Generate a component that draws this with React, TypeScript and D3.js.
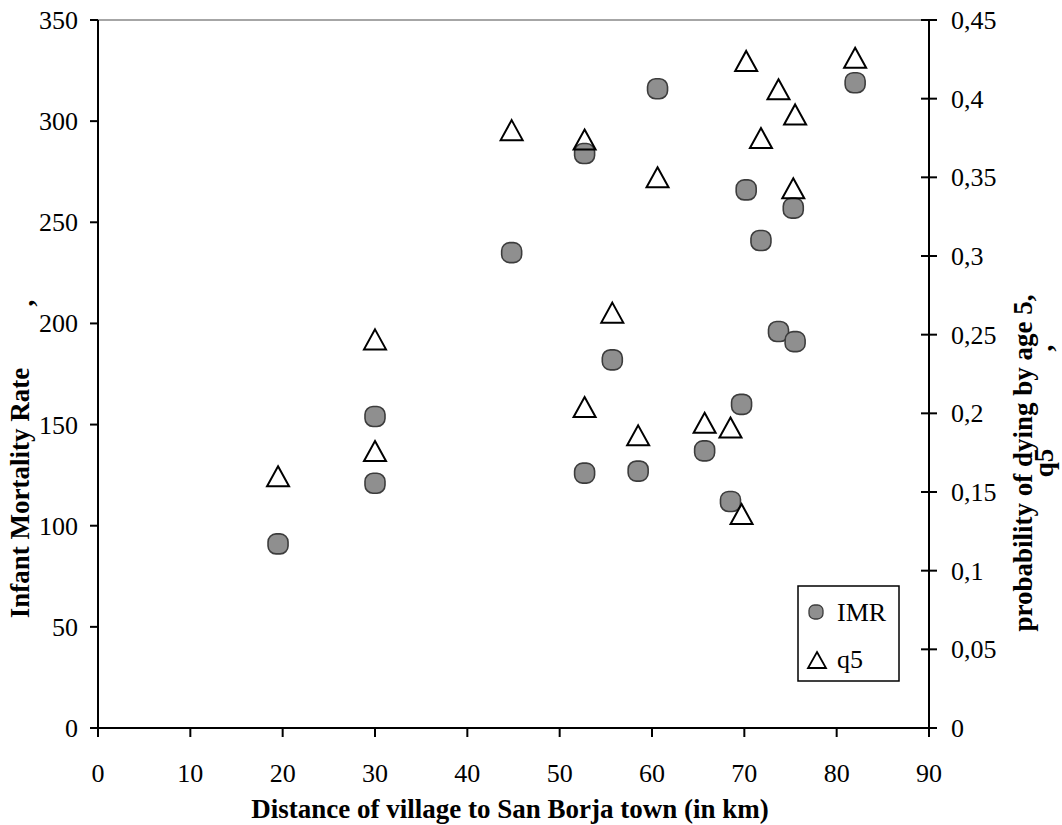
import React from "react";
import * as d3 from "d3";

const distances = [19.5, 30, 30, 44.8, 52.7, 52.7, 55.7, 58.5, 60.6, 65.7, 68.5, 69.7, 70.2, 71.8, 73.7, 75.3, 75.5, 82.0];
const imr = [91, 154, 121, 235, 284, 126, 182, 127, 316, 137, 112, 160, 266, 241, 196, 257, 191, 319];
const q5 = [0.16, 0.247, 0.176, 0.38, 0.374, 0.204, 0.264, 0.186, 0.35, 0.194, 0.191, 0.136, 0.424, 0.375, 0.406, 0.343, 0.39, 0.426];

const xTicks = [0, 10, 20, 30, 40, 50, 60, 70, 80, 90];
const leftTicks = [0, 50, 100, 150, 200, 250, 300, 350];
const rightTicks = [0, 0.05, 0.1, 0.15, 0.2, 0.25, 0.3, 0.35, 0.4, 0.45];

const FONT = "'Liberation Serif', 'Times New Roman', serif";
const W = 1062;
const H = 825;
const L = 98, R = 929, T = 20, B = 728;

const x = d3.scaleLinear().domain([0, 90]).range([L, R]);
const yL = d3.scaleLinear().domain([0, 350]).range([B, T]);
const yR = d3.scaleLinear().domain([0, 0.45]).range([B, T]);

const fmtR = (v: number) => String(+v.toFixed(2)).replace(".", ",");

function tri(cx: number, cy: number, w: number, h: number) {
  return `M${cx},${cy - h / 2} L${cx + w / 2},${cy + h / 2} L${cx - w / 2},${cy + h / 2} Z`;
}

export default function App() {
  return (
    <svg width={W} height={H} style={{ position: "absolute", left: 0, top: 0, background: "#fff" }} fontFamily={FONT}>
      {/* top border */}
      <line x1={L} x2={R} y1={T} y2={T} stroke="#888" strokeWidth={1.5} />
      {/* axes */}
      <line x1={L} x2={L} y1={T} y2={B} stroke="#000" strokeWidth={2} />
      <line x1={R} x2={R} y1={T} y2={B} stroke="#000" strokeWidth={2} />
      <line x1={L} x2={R} y1={B} y2={B} stroke="#000" strokeWidth={2} />
      {/* left ticks */}
      {leftTicks.map((t) => (
        <g key={"l" + t}>
          <line x1={L - 8} x2={L} y1={yL(t)} y2={yL(t)} stroke="#000" strokeWidth={2} />
          <text x={78} y={yL(t) + 9} textAnchor="end" fontSize={26}>{t}</text>
        </g>
      ))}
      {/* right ticks */}
      {rightTicks.map((t) => (
        <g key={"r" + t}>
          <line x1={R - 8} x2={R + 8} y1={yR(t)} y2={yR(t)} stroke="#000" strokeWidth={2} />
          <text x={951} y={yR(t) + 9} textAnchor="start" fontSize={26}>{fmtR(t)}</text>
        </g>
      ))}
      {/* bottom ticks */}
      {xTicks.map((t) => (
        <g key={"x" + t}>
          <line x1={x(t)} x2={x(t)} y1={B} y2={B + 9} stroke="#000" strokeWidth={2} />
          <text x={x(t)} y={782} textAnchor="middle" fontSize={26}>{t}</text>
        </g>
      ))}
      {/* titles */}
      <text x={510} y={818} textAnchor="middle" fontSize={27} fontWeight="bold">Distance of village to San Borja town (in km)</text>
      <text transform={`translate(29,493) rotate(-90)`} textAnchor="middle" fontSize={27} fontWeight="bold">Infant Mortality Rate</text>
      <text transform={`translate(33,303) rotate(-90)`} textAnchor="middle" fontSize={27} fontWeight="bold">,</text>
      <text transform={`translate(1032,463) rotate(-90)`} textAnchor="middle" fontSize={27} fontWeight="bold">probability of dying by age 5,</text>
      <text transform={`translate(1053,463) rotate(-90)`} textAnchor="middle" fontSize={27} fontWeight="bold">q5</text>
      <text transform={`translate(1052,348) rotate(-90)`} textAnchor="middle" fontSize={27} fontWeight="bold">,</text>
      {/* IMR points */}
      {distances.map((d, i) => (
        <rect key={"i" + i} x={x(d) - 10} y={yL(imr[i]) - 10} width={20} height={20} rx={8} ry={8}
          fill="#8f8f8f" stroke="#3c3c3c" strokeWidth={1.6} />
      ))}
      {/* q5 points */}
      {distances.map((d, i) => (
        <path key={"q" + i} d={tri(x(d), yR(q5[i]), 22, 20)} fill="none" stroke="#000" strokeWidth={2} strokeLinejoin="miter" />
      ))}
      {/* legend */}
      <rect x={798} y={586} width={101} height={95} fill="#fff" stroke="#000" strokeWidth={1.5} />
      <rect x={809} y={605} width={14} height={14} rx={5.5} ry={5.5} fill="#8f8f8f" stroke="#3c3c3c" strokeWidth={1.3} />
      <text x={837} y={621} fontSize={26}>IMR</text>
      <path d={tri(817, 660, 18, 16)} fill="none" stroke="#000" strokeWidth={1.8} />
      <text x={837} y={668} fontSize={26}>q5</text>
    </svg>
  );
}
